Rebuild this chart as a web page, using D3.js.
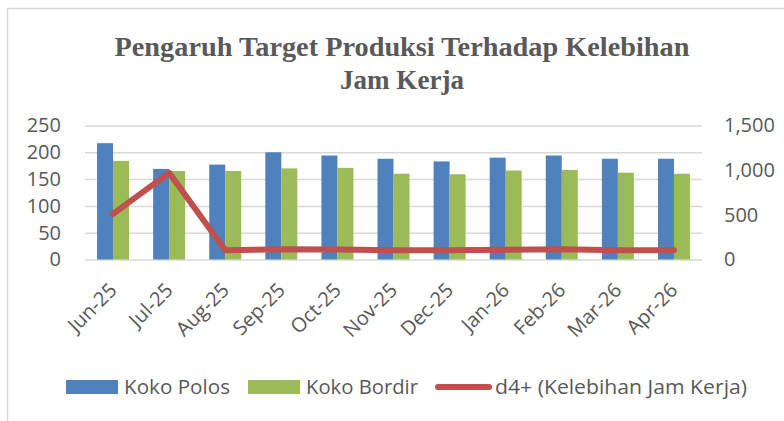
<!DOCTYPE html>
<html>
<head>
<meta charset="utf-8">
<script src="https://cdn.jsdelivr.net/npm/d3@7"></script>
<style>
  body { margin: 0; background: #fff; }
  svg { display: block; }
</style>
</head>
<body>
<div id="chart"></div>
<script>
// Data
const months = ['Jun-25', 'Jul-25', 'Aug-25', 'Sep-25', 'Oct-25', 'Nov-25', 'Dec-25', 'Jan-26', 'Feb-26', 'Mar-26', 'Apr-26'];
const kokoPolos = [217, 169, 177, 200, 194, 188, 183, 190, 194, 188, 188];
const kokoBordir = [184, 165, 165, 170, 171, 160, 159, 166, 167, 162, 160];
const kelebihanJam = [510, 970, 103, 116, 113, 103, 103, 110, 114, 103, 103];
const leftTicks = [0, 50, 100, 150, 200, 250];
const rightTicks = [0, 500, 1000, 1500];

const width = 784;
const height = 421;
const textColor = '#595959';
const sans = '"Open Sans", sans-serif';

const svg = d3.select('#chart')
  .append('svg')
  .attr('width', width)
  .attr('height', height);

// chart area border
svg.append('rect')
  .attr('x', 7.5).attr('y', 8.5)
  .attr('width', 800).attr('height', 420)
  .attr('fill', 'none')
  .attr('stroke', '#D9D9D9')
  .attr('stroke-width', 1.5);

// Title
const title = svg.append('g')
  .attr('font-family', '"Liberation Serif", "Times New Roman", serif')
  .attr('font-weight', 'bold')
  .attr('font-size', 28)
  .attr('fill', textColor)
  .attr('text-anchor', 'middle');
title.append('text').attr('x', 402).attr('y', 55.5)
  .attr('textLength', 575).attr('lengthAdjust', 'spacingAndGlyphs')
  .text('Pengaruh Target Produksi Terhadap Kelebihan');
title.append('text').attr('x', 402).attr('y', 88.5)
  .attr('textLength', 124).attr('lengthAdjust', 'spacingAndGlyphs')
  .text('Jam Kerja');

const plot = { left: 85, right: 702, top: 125.5, bottom: 259.5 };

const x = d3.scaleBand().domain(months).range([plot.left, plot.right]).padding(0);
const y = d3.scaleLinear().domain([0, 250]).range([plot.bottom, plot.top]);
const y2 = d3.scaleLinear().domain([0, 1500]).range([plot.bottom, plot.top]);
const barW = x.step() * 0.285;

// gridlines
svg.append('g')
  .attr('transform', `translate(${plot.left},0)`)
  .call(d3.axisLeft(y).tickValues(leftTicks).tickFormat('').tickSize(-(plot.right - plot.left)))
  .call(g => g.select('.domain').remove())
  .call(g => g.selectAll('line').attr('stroke', '#D9D9D9').attr('stroke-width', 1.5));

// left axis labels
svg.append('g')
  .attr('transform', `translate(61,0)`)
  .call(d3.axisLeft(y).tickValues(leftTicks).tickSize(0).tickPadding(0))
  .call(g => g.select('.domain').remove())
  .call(g => g.selectAll('text')
    .attr('font-family', sans)
    .attr('font-size', 20)
    .attr('fill', textColor));

// right axis labels
svg.append('g')
  .attr('transform', `translate(724,0)`)
  .call(d3.axisRight(y2).tickValues(rightTicks).tickSize(0).tickPadding(0).tickFormat(d3.format(',')))
  .call(g => g.select('.domain').remove())
  .call(g => g.selectAll('text')
    .attr('font-family', sans)
    .attr('font-size', 20)
    .attr('fill', textColor));

// bars
svg.append('g').selectAll('rect')
  .data(months)
  .join('rect')
  .attr('x', (d) => x(d) + x.bandwidth() / 2 - barW)
  .attr('y', (d, i) => y(kokoPolos[i]))
  .attr('width', barW)
  .attr('height', (d, i) => y(0) - y(kokoPolos[i]))
  .attr('fill', '#4F81BD');

svg.append('g').selectAll('rect')
  .data(months)
  .join('rect')
  .attr('x', (d) => x(d) + x.bandwidth() / 2)
  .attr('y', (d, i) => y(kokoBordir[i]))
  .attr('width', barW)
  .attr('height', (d, i) => y(0) - y(kokoBordir[i]))
  .attr('fill', '#9BBB59');

// line on secondary axis
const line = d3.line()
  .x((d, i) => x(months[i]) + x.bandwidth() / 2)
  .y((d) => y2(d));

svg.append('path')
  .datum(kelebihanJam)
  .attr('d', line)
  .attr('fill', 'none')
  .attr('stroke', '#C0504D')
  .attr('stroke-width', 6)
  .attr('stroke-linejoin', 'round')
  .attr('stroke-linecap', 'round');

// x labels, rotated
svg.append('g')
  .attr('transform', `translate(0,${plot.bottom})`)
  .call(d3.axisBottom(x).tickSize(0).tickPadding(0))
  .call(g => g.select('.domain').remove())
  .call(g => g.selectAll('text')
    .attr('font-family', sans)
    .attr('font-size', 20)
    .attr('fill', textColor)
    .attr('text-anchor', 'end')
    .attr('dy', null)
    .attr('transform', 'translate(5,32) rotate(-45)'));

// legend
const legend = svg.append('g')
  .attr('font-family', sans)
  .attr('font-size', 20)
  .attr('fill', textColor);

legend.append('rect').attr('x', 66).attr('y', 380).attr('width', 52).attr('height', 14).attr('fill', '#4F81BD');
legend.append('text').attr('x', 124).attr('y', 394)
  .attr('textLength', 106).attr('lengthAdjust', 'spacingAndGlyphs').text('Koko Polos');
legend.append('rect').attr('x', 248).attr('y', 380).attr('width', 52).attr('height', 14).attr('fill', '#9BBB59');
legend.append('text').attr('x', 306).attr('y', 394)
  .attr('textLength', 112).attr('lengthAdjust', 'spacingAndGlyphs').text('Koko Bordir');
legend.append('line').attr('x1', 438).attr('x2', 489).attr('y1', 387).attr('y2', 387)
  .attr('stroke', '#C0504D').attr('stroke-width', 6).attr('stroke-linecap', 'round');
legend.append('text').attr('x', 495).attr('y', 394)
  .attr('textLength', 252).attr('lengthAdjust', 'spacingAndGlyphs').text('d4+ (Kelebihan Jam Kerja)');
</script>
</body>
</html>
